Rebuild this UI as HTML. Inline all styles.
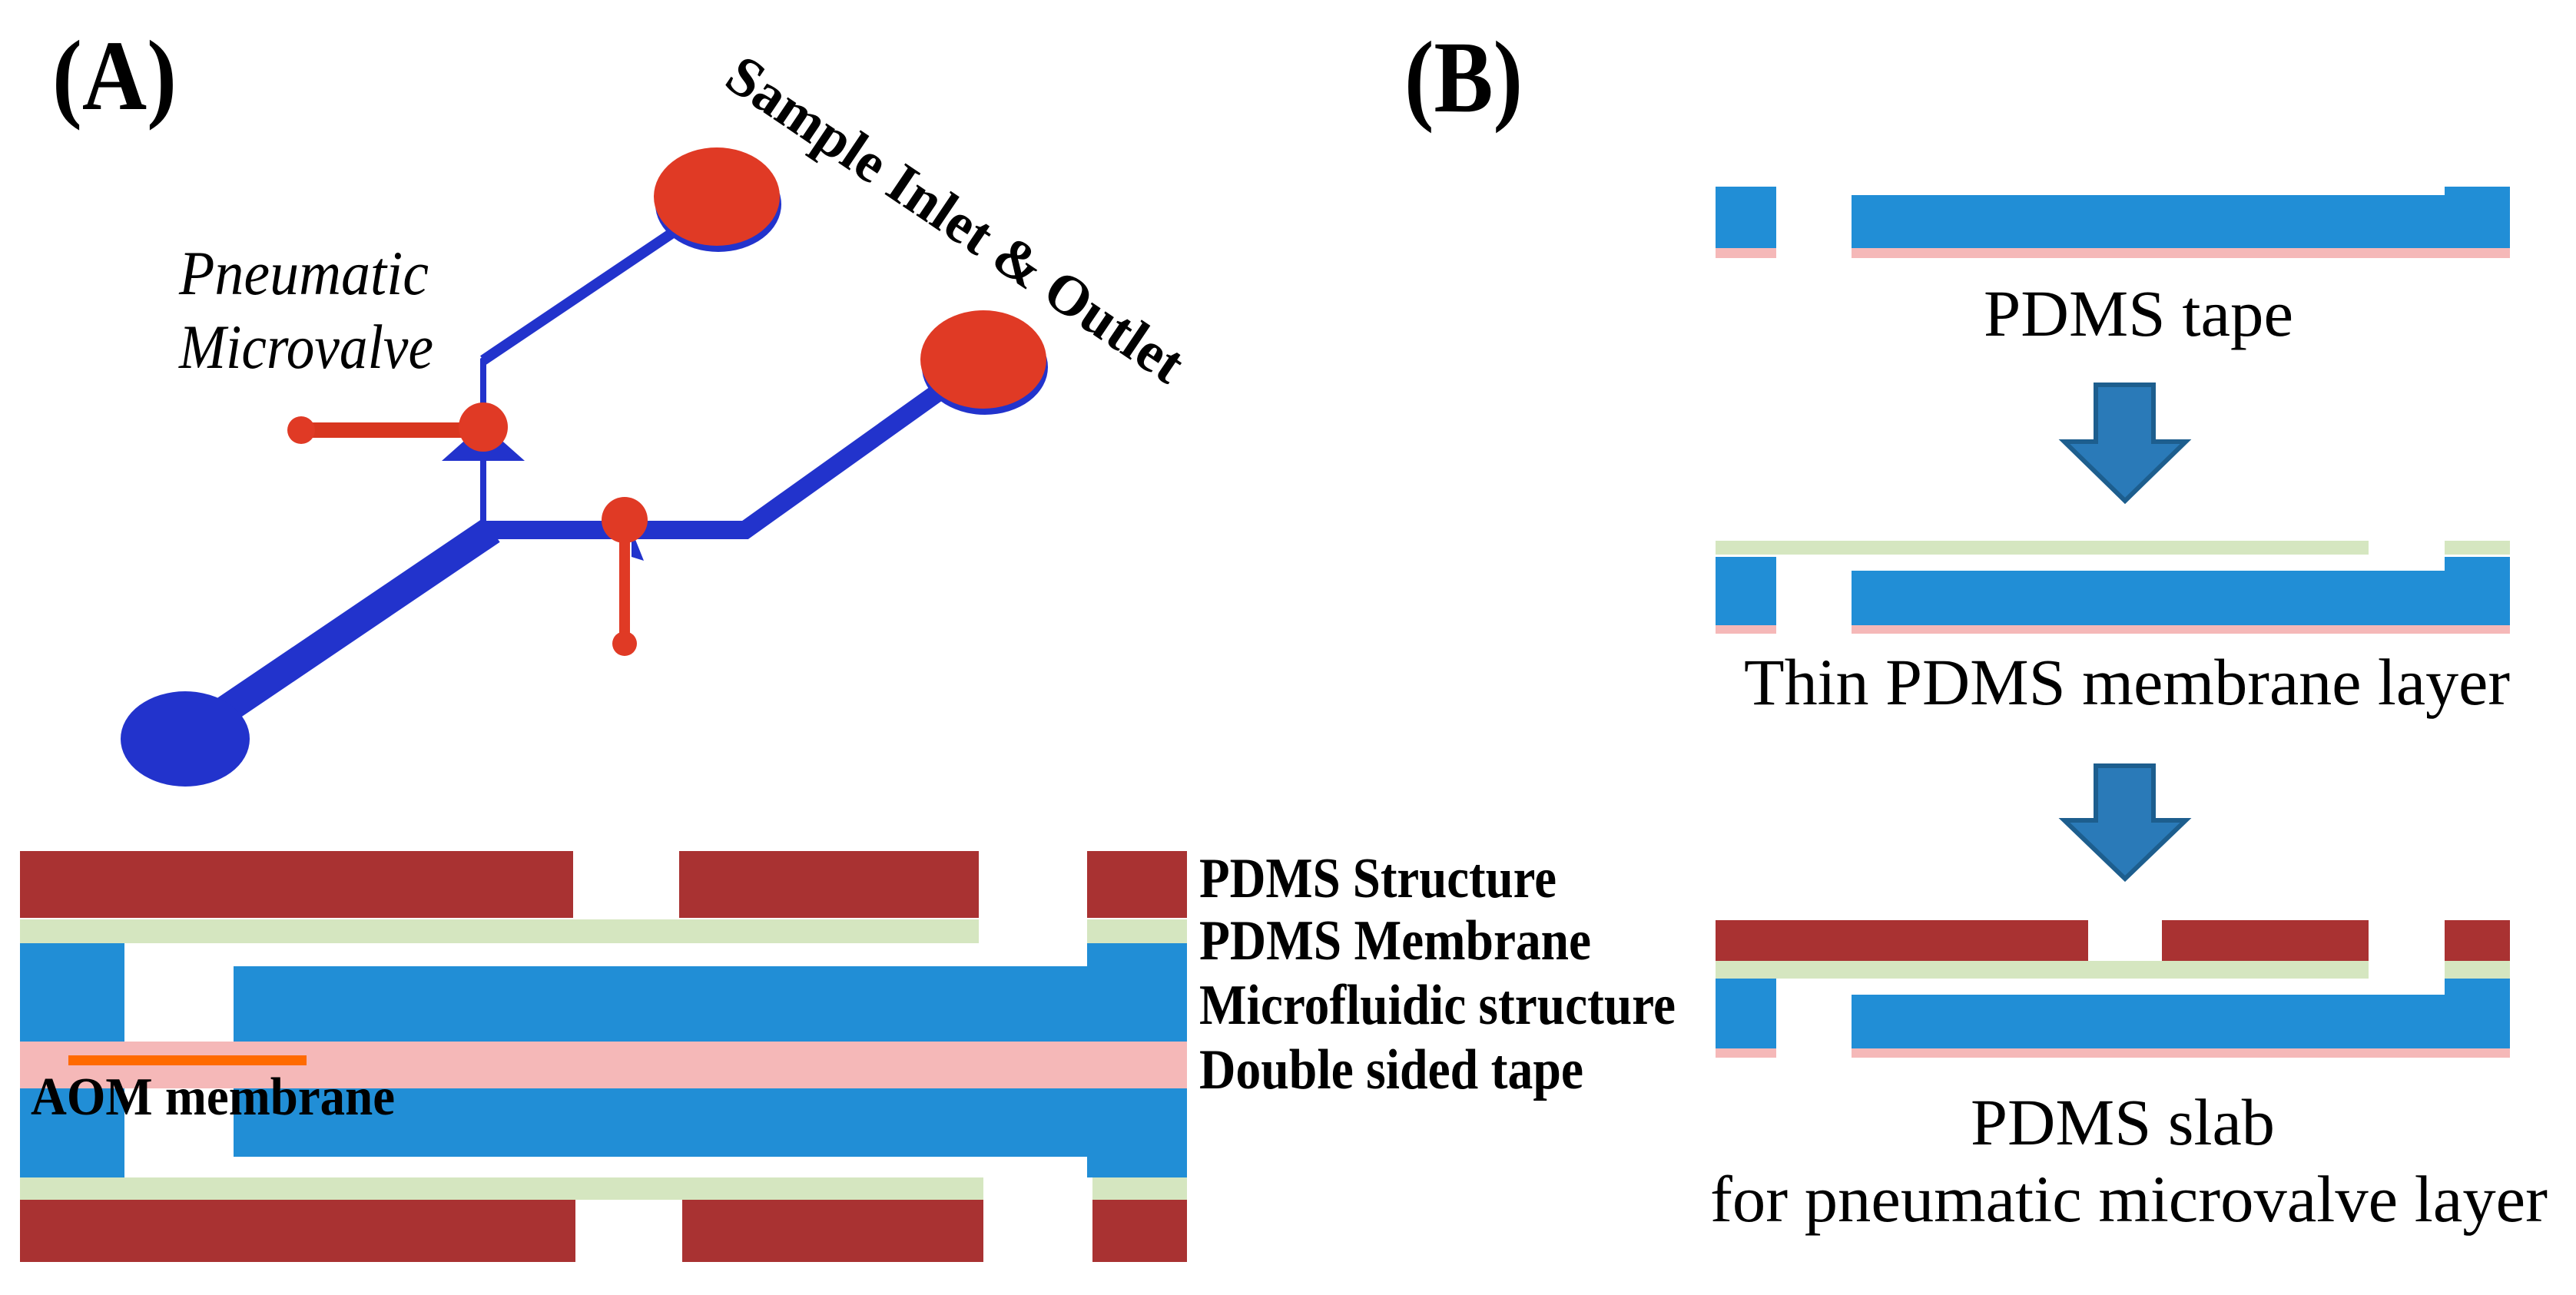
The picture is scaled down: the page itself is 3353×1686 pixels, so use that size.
<!DOCTYPE html>
<html><head><meta charset="utf-8"><style>html,body{margin:0;padding:0;background:#fff}svg{display:block}text{font-family:"Liberation Serif",serif}</style></head>
<body>
<svg width="3353" height="1686" viewBox="0 0 3353 1686" xmlns="http://www.w3.org/2000/svg">
<rect width="3353" height="1686" fill="#fff"/>
<text x="68" y="142" font-size="130" font-weight="bold" textLength="162" lengthAdjust="spacingAndGlyphs">(A)</text>
<text x="1828" y="145" font-size="133" font-weight="bold" textLength="154" lengthAdjust="spacingAndGlyphs">(B)</text>

<g>
 <polyline points="629,690 629,469 880,300" fill="none" stroke="#2233cc" stroke-width="8"/>
 <line x1="629" y1="469" x2="880" y2="300" stroke="#2233cc" stroke-width="14"/>
 <line x1="241" y1="960" x2="640" y2="690" stroke="#2233cc" stroke-width="38"/>
 <polyline points="630,690 970,690 1250,490" fill="none" stroke="#2233cc" stroke-width="24" stroke-linejoin="miter"/>
 <ellipse cx="241" cy="962" rx="84" ry="62" fill="#2233cc"/>
 <polygon points="629,552 575,600 683,600" fill="#2233cc"/>
 <polygon points="822,690 838,730 822,725" fill="#2233cc"/>
 <ellipse cx="935" cy="266" rx="82" ry="62" fill="#2233cc"/>
 <ellipse cx="933" cy="256" rx="82" ry="64" fill="#e03a25"/>
 <ellipse cx="1282" cy="478" rx="82" ry="62" fill="#2233cc"/>
 <ellipse cx="1280" cy="468" rx="82" ry="64" fill="#e03a25"/>
 <line x1="392" y1="560" x2="629" y2="560" stroke="#d8361f" stroke-width="20"/>
 <circle cx="392" cy="560" r="18" fill="#e03a25"/>
 <circle cx="629" cy="556" r="32" fill="#e03a25"/>
 <line x1="813" y1="677" x2="813" y2="836" stroke="#e03a25" stroke-width="14"/>
 <circle cx="813" cy="838" r="16" fill="#e03a25"/>
 <circle cx="813" cy="677" r="30" fill="#e03a25"/>
</g>
<text x="233" y="383" font-size="82" font-style="italic" textLength="325" lengthAdjust="spacingAndGlyphs">Pneumatic</text>
<text x="233" y="479" font-size="82" font-style="italic" textLength="331" lengthAdjust="spacingAndGlyphs">Microvalve</text>
<text transform="translate(940,110) rotate(34)" font-size="74" font-weight="bold" textLength="700" lengthAdjust="spacingAndGlyphs">Sample Inlet &amp; Outlet</text>

<g>
 <rect x="26" y="1108" width="720" height="87" fill="#a93232"/>
 <rect x="884" y="1108" width="390" height="87" fill="#a93232"/>
 <rect x="1415" y="1108" width="130" height="87" fill="#a93232"/>
 <rect x="26" y="1197" width="1248" height="31" fill="#d5e6c0"/>
 <rect x="1415" y="1197" width="130" height="31" fill="#d5e6c0"/>
 <rect x="26" y="1228" width="136" height="305" fill="#218ed6"/>
 <rect x="1415" y="1228" width="130" height="305" fill="#218ed6"/>
 <rect x="304" y="1258" width="1241" height="98" fill="#218ed6"/>
 <rect x="304" y="1417" width="1241" height="89" fill="#218ed6"/>
 <rect x="26" y="1356" width="1519" height="61" fill="#f5b8b8"/>
 <rect x="26" y="1533" width="1254" height="29" fill="#d5e6c0"/>
 <rect x="1422" y="1533" width="123" height="29" fill="#d5e6c0"/>
 <rect x="26" y="1562" width="723" height="81" fill="#a93232"/>
 <rect x="888" y="1562" width="392" height="81" fill="#a93232"/>
 <rect x="1422" y="1562" width="123" height="81" fill="#a93232"/>
 <rect x="89" y="1374" width="310" height="13" fill="#ff6a00"/>
</g>
<text x="40" y="1451" font-size="70" font-weight="bold" textLength="474" lengthAdjust="spacingAndGlyphs">AOM membrane</text>
<g font-size="74" font-weight="bold">
 <text x="1561" y="1168" textLength="465" lengthAdjust="spacingAndGlyphs">PDMS Structure</text>
 <text x="1561" y="1249" textLength="510" lengthAdjust="spacingAndGlyphs">PDMS Membrane</text>
 <text x="1561" y="1333" textLength="620" lengthAdjust="spacingAndGlyphs">Microfluidic structure</text>
 <text x="1561" y="1417" textLength="500" lengthAdjust="spacingAndGlyphs">Double sided tape</text>
</g>

<g>
 <rect x="2233" y="243" width="79" height="80" fill="#218ed6"/>
 <rect x="2410" y="254" width="857" height="69" fill="#218ed6"/>
 <rect x="3182" y="243" width="85" height="80" fill="#218ed6"/>
 <rect x="2233" y="323" width="79" height="13" fill="#f5b8b8"/>
 <rect x="2410" y="323" width="857" height="13" fill="#f5b8b8"/>
 <rect x="2233" y="704" width="850" height="18" fill="#d5e6c0"/>
 <rect x="3182" y="704" width="85" height="18" fill="#d5e6c0"/>
 <rect x="2233" y="725" width="79" height="89" fill="#218ed6"/>
 <rect x="2410" y="743" width="857" height="71" fill="#218ed6"/>
 <rect x="3182" y="725" width="85" height="89" fill="#218ed6"/>
 <rect x="2233" y="814" width="79" height="11" fill="#f5b8b8"/>
 <rect x="2410" y="814" width="857" height="11" fill="#f5b8b8"/>
 <rect x="2233" y="1198" width="485" height="53" fill="#a93232"/>
 <rect x="2814" y="1198" width="269" height="53" fill="#a93232"/>
 <rect x="3182" y="1198" width="85" height="53" fill="#a93232"/>
 <rect x="2233" y="1251" width="850" height="23" fill="#d5e6c0"/>
 <rect x="3182" y="1251" width="85" height="23" fill="#d5e6c0"/>
 <rect x="2233" y="1274" width="79" height="91" fill="#218ed6"/>
 <rect x="2410" y="1295" width="857" height="70" fill="#218ed6"/>
 <rect x="3182" y="1274" width="85" height="91" fill="#218ed6"/>
 <rect x="2233" y="1365" width="79" height="12" fill="#f5b8b8"/>
 <rect x="2410" y="1365" width="857" height="12" fill="#f5b8b8"/>
 <polygon points="2728,501 2803,501 2803,575 2845,575 2766,652 2687,575 2728,575" fill="#2a7ab8" stroke="#1d5e8e" stroke-width="6"/>
 <polygon points="2728,997 2803,997 2803,1068 2845,1068 2766,1144 2687,1068 2728,1068" fill="#2a7ab8" stroke="#1d5e8e" stroke-width="6"/>
</g>
<g font-size="86">
 <text x="2582" y="437" textLength="403" lengthAdjust="spacingAndGlyphs">PDMS tape</text>
 <text x="2270" y="917" textLength="997" lengthAdjust="spacingAndGlyphs">Thin PDMS membrane layer</text>
 <text x="2565" y="1490" textLength="396" lengthAdjust="spacingAndGlyphs">PDMS slab</text>
 <text x="2226" y="1590" textLength="1090" lengthAdjust="spacingAndGlyphs">for pneumatic microvalve layer</text>
</g>
</svg>
</body></html>
